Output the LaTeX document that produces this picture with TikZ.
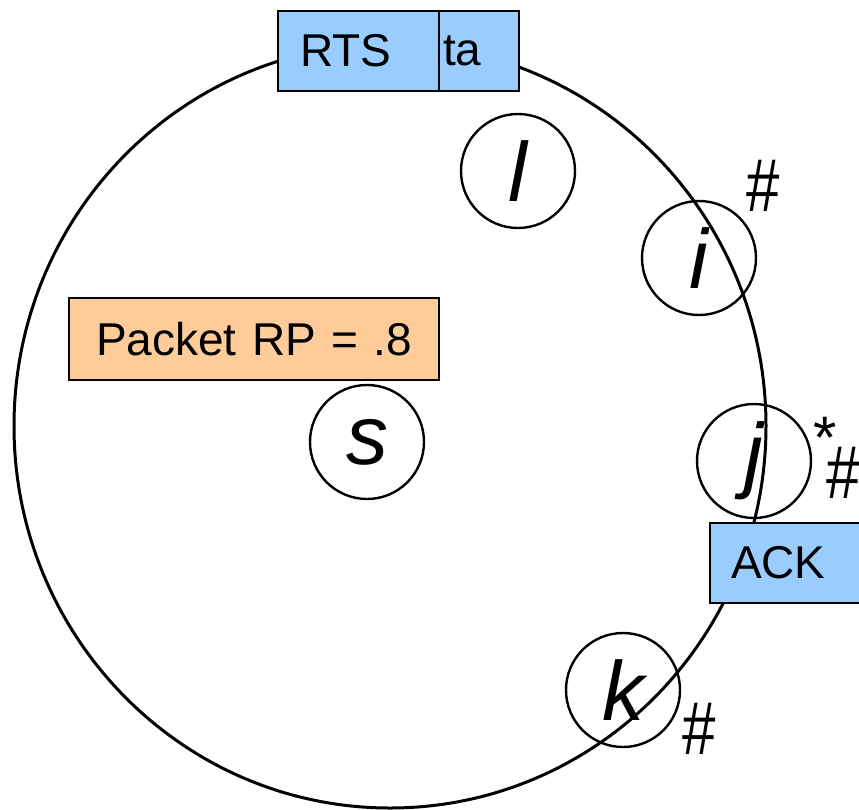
\documentclass[tikz,border=0pt]{standalone}
\usepackage{fontspec}
\setmainfont{Liberation Sans}
\definecolor{pktblue}{HTML}{99CCFF}
\definecolor{pktorange}{HTML}{FFCC99}
\newcommand{\tallhash}{\scalebox{1}[1.25]{\#}}
\begin{document}
\begin{tikzpicture}[x=1pt,y=-1pt,
  bubble/.style={circle,draw,line width=2.4pt,minimum size=114pt,inner sep=0pt,
    font=\fontsize{84}{84}\selectfont\itshape},
  framebox/.style={rectangle,draw,line width=2pt,inner ysep=0pt,
    minimum height=80pt,align=left,font=\fontsize{46}{46}\selectfont},
  mark label/.style={anchor=base,inner sep=0pt,font=\fontsize{60}{60}\selectfont}]
\useasboundingbox (0,0) rectangle (859,809);

% transmission range
\draw[line width=3pt] (390,426) ellipse [x radius=376pt, y radius=382pt];

% packets sent around the ring
\node[framebox,fill=pktblue,anchor=north west,inner xsep=4pt,text width=72pt,minimum width=80pt]
  (data) at (438,10) {ta};
\node[framebox,fill=pktblue,anchor=north west,inner xsep=22pt,text width=117pt,minimum width=161pt]
  (rts) at (277,10) {RTS};
\node[framebox,fill=pktorange,anchor=north west,inner xsep=0pt,text width=370pt,align=center,
  minimum width=370pt,minimum height=82pt] (rp) at (68,297) {Packet RP = .8};
\node[framebox,fill=pktblue,anchor=north west,inner xsep=21pt,text width=150pt,minimum width=192pt]
  (ack) at (709,522) {ACK};

% stations
\node[bubble] (l) at (518,171) {l};
\node[bubble] (i) at (699,258) {i};
\node[bubble] (j) at (754,461) {j};
\node[bubble] (s) at (367,442) {s};
\node[bubble] (k) at (623,690) {k};

% station marks
\node[mark label] (ihash) at (763,211) {\tallhash};
\node[mark label] (jstar) at (825,458) {*};
\node[mark label] (jhash) at (843,498) {\tallhash};
\node[mark label] (khash) at (699,754) {\tallhash};
\end{tikzpicture}
\end{document}
